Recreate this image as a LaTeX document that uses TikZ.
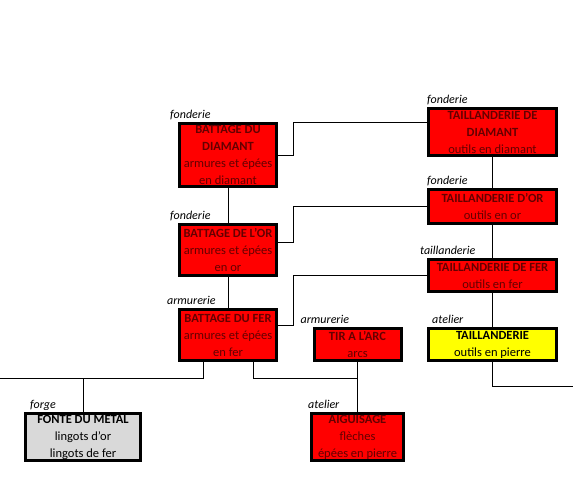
\documentclass[tikz,border=0pt]{standalone}
\usepackage{fontspec}
\setmainfont{Carlito}
\usetikzlibrary{calc}
\definecolor{rouge}{RGB}{255,0,0}
\definecolor{bordeaux}{RGB}{100,0,0}
\definecolor{jaune}{RGB}{255,255,0}
\definecolor{gris}{RGB}{217,217,217}
\tikzset{
  poste/.style={draw=black, line width=3pt, align=center, inner xsep=1pt, inner ysep=0pt,
    font=\fontsize{12.5}{17}\selectfont},
  rougebox/.style={poste, fill=rouge, text=bordeaux},
  jaunebox/.style={poste, fill=jaune, text=black},
  grisbox/.style={poste, fill=gris, text=black},
  etiquette/.style={font=\fontsize{12}{14}\selectfont\itshape, inner sep=0pt, anchor=base west},
  lien/.style={draw=black, line width=0.8pt},
}
% box with its workshop label above the top left corner
\newcommand{\metier}[9]{%
  \node[#6, minimum width=#4pt, minimum height=#5pt] (#1) at (#2,#3) {#7};
  \node[etiquette] (#1-lab) at ([xshift=#9pt, yshift=4pt]#1.north west) {#8};
}

\begin{document}
\begin{tikzpicture}[x=1pt, y=-1pt]
  \useasboundingbox (0,0) rectangle (573,480);
  \metier{bdd}{228}{155}{97}{63}{rougebox}{\textbf{BATTAGE DU}\\\textbf{DIAMANT}\\armures et épées\\en diamant}{fonderie}{-8}
  \metier{bdo}{228}{250}{97}{51}{rougebox}{\textbf{BATTAGE DE L'OR}\\armures et épées\\en or}{fonderie}{-8}
  \metier{bdf}{228}{335}{97}{51}{rougebox}{\textbf{BATTAGE DU FER}\\armures et épées\\en fer}{armurerie}{-11}
  \metier{tdd}{492.5}{132}{128}{47}{rougebox}{\textbf{TAILLANDERIE DE}\\\textbf{DIAMANT}\\outils en diamant}{fonderie}{0}
  \metier{tdo}{492.5}{206.5}{128}{34}{rougebox}{\textbf{TAILLANDERIE D'OR}\\outils en or}{fonderie}{0}
  \metier{tdf}{492.5}{275.5}{128}{32}{rougebox}{\textbf{TAILLANDERIE DE FER}\\outils en fer}{taillanderie}{-7}
  \metier{tail}{492.5}{344.5}{128}{32}{jaunebox}{\textbf{TAILLANDERIE}\\outils en pierre}{atelier}{5}
  \metier{tir}{357.5}{344.5}{87}{32}{rougebox}{\textbf{TIR A L'ARC}\\arcs}{armurerie}{-12}
  \metier{forge}{83}{437}{115}{47}{grisbox}{\textbf{FONTE DU METAL}\\lingots d'or\\lingots de fer}{forge}{6}
  \metier{aig}{357.5}{437}{92}{47}{rougebox}{\textbf{AIGUISAGE}\\flèches\\épées en pierre}{atelier}{-2}

  \coordinate (bord-ouest) at (0,378);
  \coordinate (bord-est) at (573,386);

  \draw[lien] (bdd.south) -- (bdo.north);
  \draw[lien] (bdo.south) -- (bdf.north);
  \draw[lien] (bdd.east) -- ++(15,0) |- ([yshift=10pt]tdd.west);
  \draw[lien] ([yshift=8pt]bdo.east) -- ++(15,0) |- (tdo.west);
  \draw[lien] ([yshift=10pt]bdf.east) -- ++(15,0) |- (tdf.west);
  \draw[lien] (tdd.south) -- (tdo.north);
  \draw[lien] (tdo.south) -- (tdf.north);
  \draw[lien] (tdf.south) -- (tail.north);
  \draw[lien] (tail.south) |- (bord-est);
  \draw[lien] ([xshift=-25pt]bdf.south) |- (bord-ouest);
  \draw[lien] (forge.north) -- (forge.north |- bord-ouest);
  \draw[lien] ([xshift=25pt]bdf.south) |- (tir.south |- bord-ouest);
  \draw[lien] (tir.south) -- (aig.north);
\end{tikzpicture}
\end{document}
